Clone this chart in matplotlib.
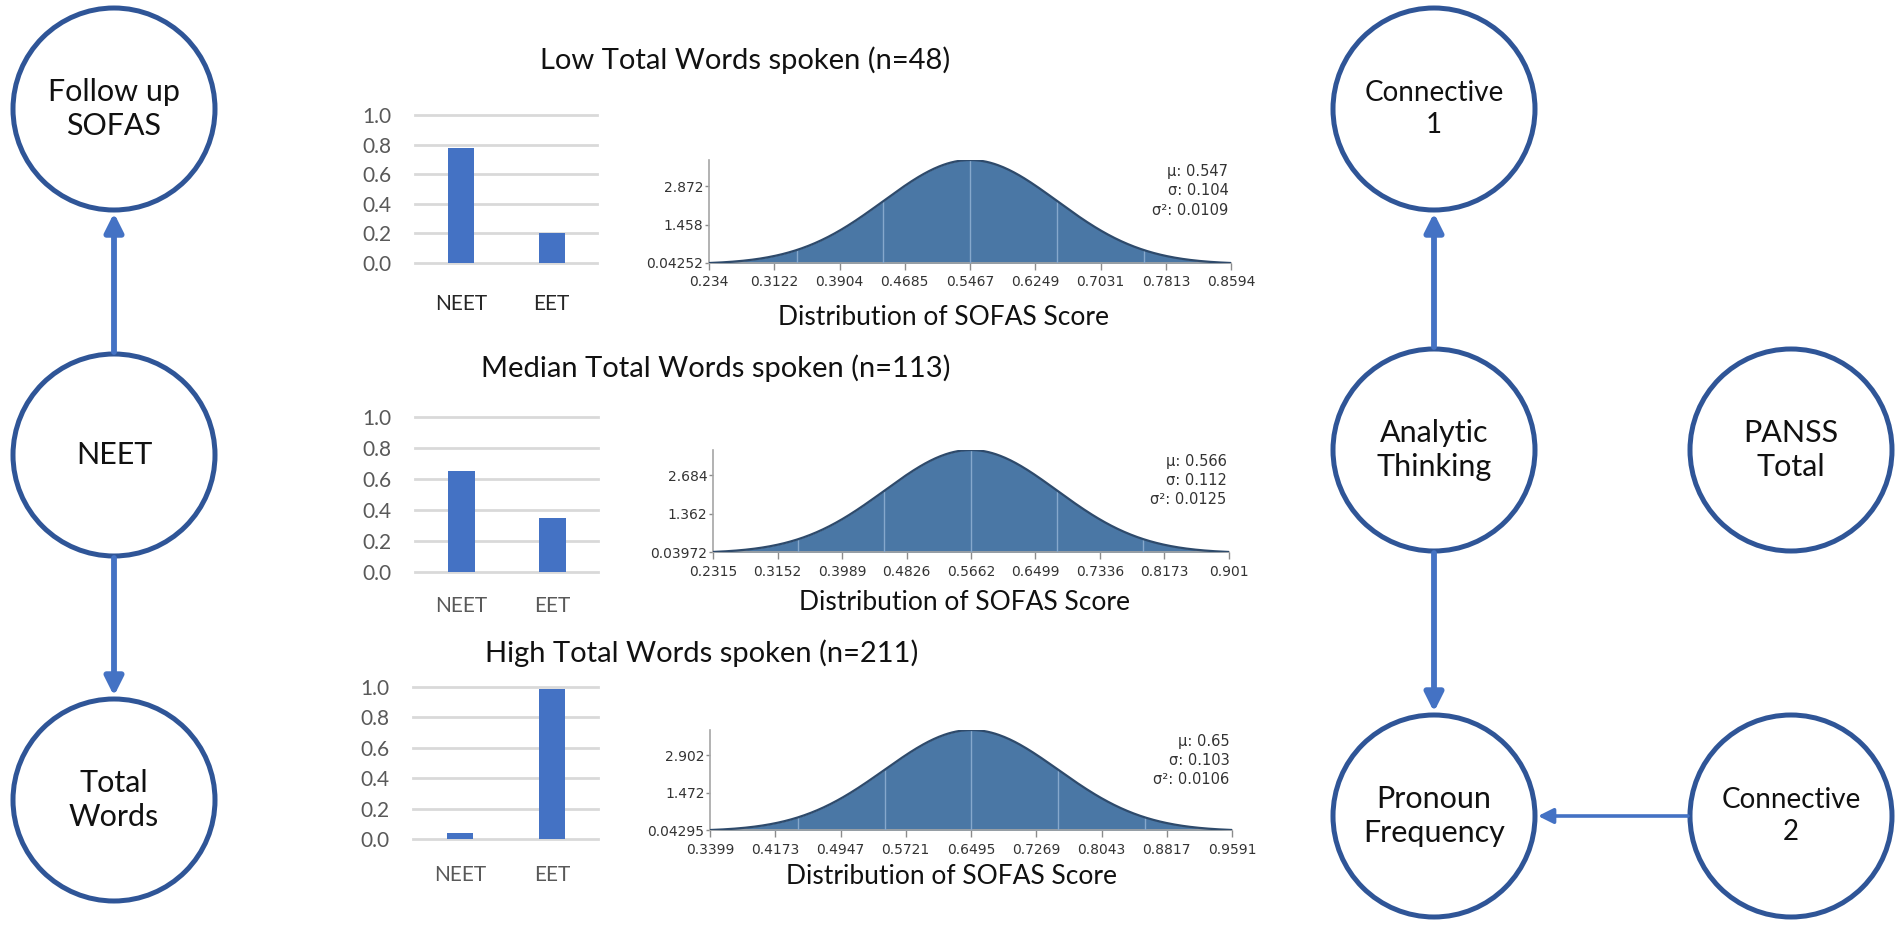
import numpy as np
import matplotlib
matplotlib.use('Agg')
import matplotlib.pyplot as plt
from matplotlib.patches import Circle, FancyArrowPatch

W, H = 1902, 926

# ---- data -------------------------------------------------------------
titles = ['Low Total Words spoken (n=48)',
          'Median Total Words spoken (n=113)',
          'High Total Words spoken (n=211)']
status = ['NEET', 'EET']
share_low = [0.78, 0.20]
share_med = [0.65, 0.35]
share_high = [0.04, 0.99]
shares = [share_low, share_med, share_high]

sofas_mu = [0.547, 0.566, 0.65]
sofas_sd = [0.104, 0.112, 0.103]
sofas_var = ['0.0109', '0.0125', '0.0106']
ytick_low = ['0.04252', '1.458', '2.872']
ytick_med = ['0.03972', '1.362', '2.684']
ytick_high = ['0.04295', '1.472', '2.902']
xtick_low = ['0.234', '0.3122', '0.3904', '0.4685', '0.5467', '0.6249', '0.7031', '0.7813', '0.8594']
xtick_med = ['0.2315', '0.3152', '0.3989', '0.4826', '0.5662', '0.6499', '0.7336', '0.8173', '0.901']
xtick_high = ['0.3399', '0.4173', '0.4947', '0.5721', '0.6495', '0.7269', '0.8043', '0.8817', '0.9591']
yticks = [ytick_low, ytick_med, ytick_high]
xticks = [xtick_low, xtick_med, xtick_high]

nodes = ['Follow up\nSOFAS', 'NEET', 'Total\nWords', 'Connective\n1',
         'Analytic\nThinking', 'PANSS\nTotal', 'Pronoun\nFrequency', 'Connective\n2']
edges = [(1, 0), (1, 2), (4, 3), (4, 6), (7, 6)]

# ---- layout (pixels, y down) -----------------------------------------
node_xy = [(114, 109), (114, 455), (114, 800), (1434, 109),
           (1434, 450), (1791, 450), (1434, 816), (1791, 816)]
node_r = 101
node_fs = [22, 22, 22, 20, 22, 22, 22, 20]

bar_boxes = [(415, 115, 597, 263), (415, 417, 598, 572), (413, 687, 598, 839)]
bar_label_pad = [22, 17, 19]
gauss_boxes = [(709, 160, 1231, 263), (713, 450, 1229, 552), (710, 730, 1232, 830)]
title_xy = [(745, 60), (716, 368), (702, 653)]
dist_xy = [(943, 317), (965, 603), (952, 877)]

CIRCLE_C = '#2F5597'
ARROW_C = '#4472C4'
BAR_C = '#4472C4'
FILL_C = '#4A77A5'
TXT_FONT = 'Lato'


def px_box(x0, y0, x1, y1):
    return [x0 / W, 1 - y1 / H, (x1 - x0) / W, (y1 - y0) / H]


fig = plt.figure(figsize=(W / 100, H / 100), dpi=100)
fig.patch.set_facecolor('white')

# overlay in pixel coords for the path diagram
ov = fig.add_axes([0, 0, 1, 1])
ov.set_xlim(0, W)
ov.set_ylim(H, 0)
ov.axis('off')

for name, (cx, cy), fs in zip(nodes, node_xy, node_fs):
    ov.add_patch(Circle((cx, cy), node_r, fill=False, ec=CIRCLE_C, lw=3.6))
    ov.text(cx, cy, name, ha='center', va='center', fontsize=fs,
            family=TXT_FONT, color='#111111', linespacing=1.25)

for a, b in edges:
    (xa, ya), (xb, yb) = node_xy[a], node_xy[b]
    d = np.hypot(xb - xa, yb - ya)
    ux, uy = (xb - xa) / d, (yb - ya) / d
    start = (xa + ux * (node_r + 2), ya + uy * (node_r + 2))
    end = (xb - ux * (node_r + 3), yb - uy * (node_r + 3))
    horiz = abs(ux) > 0.5
    lw = 2.6 if horiz else 4.2
    style = '-|>,head_length=9,head_width=4.5' if horiz else '-|>,head_length=11,head_width=5.5'
    ov.add_patch(FancyArrowPatch(start, end, arrowstyle=style, mutation_scale=1,
                                 lw=lw, color=ARROW_C, shrinkA=0, shrinkB=0))

# ---- bar charts ------------------------------------------------------
for i in range(3):
    ax = fig.add_axes(px_box(*bar_boxes[i]))
    x = np.arange(len(status))
    ax.bar(x, shares[i], width=0.29, color=BAR_C, zorder=3)
    ax.set_xlim(-0.51, 1.5)
    ax.set_ylim(0, 1.0)
    ax.set_yticks([0, 0.2, 0.4, 0.6, 0.8, 1.0])
    ax.set_yticklabels(['0.0', '0.2', '0.4', '0.6', '0.8', '1.0'])
    ax.yaxis.grid(True, color='#D9D9D9', lw=2, zorder=0)
    for gl in ax.get_ygridlines():
        gl.set_clip_on(False)
    ax.set_axisbelow(True)
    for s in ax.spines.values():
        s.set_visible(False)
    ax.set_xticks(x)
    ax.set_xticklabels(status)
    ax.tick_params(axis='y', length=0, pad=17, labelsize=15, labelcolor='#595959')
    ax.tick_params(axis='x', length=0, pad=bar_label_pad[i], labelsize=15,
                   labelcolor='#262626' if i == 0 else '#595959')
    for lab in ax.get_xticklabels() + ax.get_yticklabels():
        lab.set_family(TXT_FONT)
    ax.patch.set_alpha(0)

    fig.text(title_xy[i][0] / W, 1 - title_xy[i][1] / H, titles[i], ha='center',
             va='center', fontsize=21, family=TXT_FONT, color='#111111')

# ---- SOFAS distributions --------------------------------------------
for i in range(3):
    mu, sd = sofas_mu[i], sofas_sd[i]
    xt = [float(v) for v in xticks[i]]
    yt = [float(v) for v in yticks[i]]
    peak = 1 / (sd * np.sqrt(2 * np.pi))
    ax = fig.add_axes(px_box(*gauss_boxes[i]))
    xs = np.linspace(xt[0], xt[-1], 400)
    pdf = peak * np.exp(-0.5 * ((xs - mu) / sd) ** 2)
    ax.fill_between(xs, 0, pdf, color=FILL_C, lw=0, zorder=2)
    ax.plot(xs, pdf, color='#2E4A6B', lw=1.6, zorder=4)
    kx = mu + sd * np.arange(-2, 3)
    ax.vlines(kx, 0, peak * np.exp(-0.5 * ((kx - mu) / sd) ** 2),
              color='#86A8CC', lw=1.0, zorder=3)
    ax.set_xlim(xt[0], xt[-1])
    ax.set_ylim(yt[0], peak)
    ax.set_xticks(xt)
    ax.set_xticklabels(xticks[i])
    ax.set_yticks(yt)
    ax.set_yticklabels(yticks[i])
    for side in ['top', 'right']:
        ax.spines[side].set_visible(False)
    for side in ['left', 'bottom']:
        ax.spines[side].set_color('#A6A6A6')
        ax.spines[side].set_linewidth(1.2)
    ax.tick_params(axis='x', length=5, width=1, color='#8c8c8c', pad=4,
                   labelsize=10, labelcolor='#333333')
    ax.tick_params(axis='y', length=3, width=1, color='#8c8c8c', pad=1,
                   labelsize=10, labelcolor='#333333')
    ax.patch.set_alpha(0)
    stats = 'μ: %s\nσ: %s\nσ²: %s' % (('%g' % mu), ('%g' % sd), sofas_var[i])
    ax.text(0.995, 0.96, stats, transform=ax.transAxes, ha='right', va='top',
            fontsize=10.5, color='#333333', linespacing=1.35)

    fig.text(dist_xy[i][0] / W, 1 - dist_xy[i][1] / H, 'Distribution of SOFAS Score',
             ha='center', va='center', fontsize=19, family=TXT_FONT, color='#111111')

fig.savefig('out.png', dpi=100, facecolor='white')
